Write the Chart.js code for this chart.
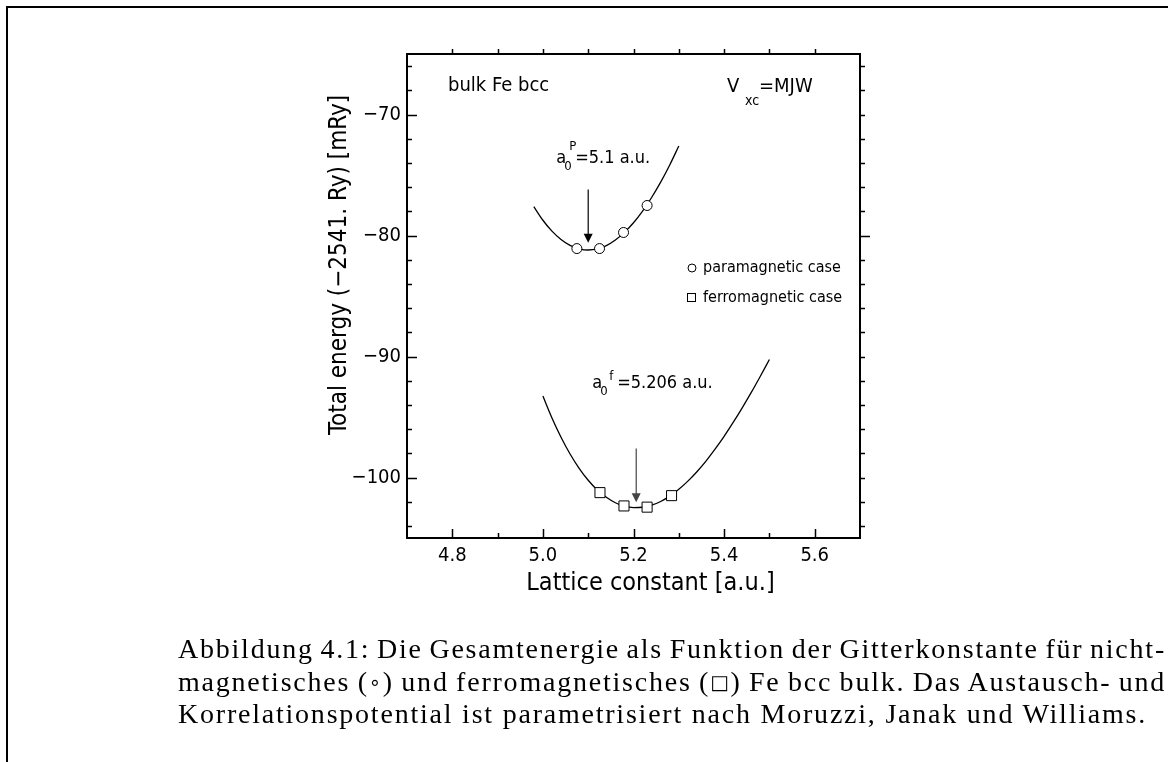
<!DOCTYPE html>
<html>
<head>
<meta charset="utf-8">
<title>Fe bcc bulk – Gesamtenergie</title>
<script src="https://cdn.jsdelivr.net/npm/chart.js@4.4.1/dist/chart.umd.min.js"></script>
<style>
  html, body { margin: 0; padding: 0; background: #fff; }
  #page { position: relative; width: 1168px; height: 762px; overflow: hidden; }
  #rule-top { position: absolute; left: 6px; top: 6px; width: 1162px; height: 2px; background: #000; }
  #rule-left { position: absolute; left: 6px; top: 6px; width: 2px; height: 756px; background: #000; }
  #plot { position: absolute; left: 0; top: 0; }
  #caption { position: absolute; left: 178px; top: 633px; font-family: 'Liberation Serif', 'DejaVu Serif', serif;
             font-size: 28px; line-height: 32.5px; color: #000; }
  #caption div { height: 32.5px; }
  #caption span.line { display: inline-block; white-space: nowrap; }
  #caption .sym { font-family: 'DejaVu Sans', sans-serif; font-size: 0.7em; vertical-align: 0.1em; }
</style>
</head>
<body>
<div id="page">
  <canvas id="plot" width="1168" height="762"></canvas>
  <div id="rule-top"></div>
  <div id="rule-left"></div>
  <div id="caption">
    <div><span class="line" data-width="988">Abbildung 4.1: Die Gesamtenergie als Funktion der Gitterkonstante für nicht-</span></div>
    <div><span class="line" data-width="988">magnetisches (<span class="sym">∘</span>) und ferromagnetisches (<span class="sym">□</span>) Fe bcc bulk. Das Austausch- und</span></div>
    <div><span class="line" data-width="969" data-ref="1">Korrelationspotential ist parametrisiert nach Moruzzi, Janak und Williams.</span></div>
  </div>
</div>
<script>
// Axis tick labels
const latticeTicks = [4.8, 5.0, 5.2, 5.4, 5.6];
const energyTicks = [-100, -90, -80, -70];

// Computed total energies (mRy, relative to -2541 Ry)
const paraLattice = [5.075, 5.125, 5.178, 5.230];
const paraEnergy  = [-81.08, -81.08, -79.75, -77.52];
const ferroLattice = [5.126, 5.179, 5.230, 5.284];
const ferroEnergy  = [-101.25, -102.35, -102.45, -101.50];

// Fitted E(a) curves
const paraFitLattice = [4.98, 5.00, 5.02, 5.04, 5.06, 5.08, 5.10, 5.12, 5.14, 5.16, 5.18, 5.20, 5.22, 5.24, 5.26, 5.28, 5.30];
const paraFitEnergy  = [-77.62, -78.74, -79.64, -80.33, -80.82, -81.10, -81.20, -81.11, -80.83, -80.37, -79.74, -78.95, -77.98, -76.86, -75.59, -74.17, -72.60];
const ferroFitLattice = [5.00, 5.02, 5.04, 5.06, 5.08, 5.10, 5.12, 5.14, 5.16, 5.18, 5.20, 5.22, 5.24, 5.26, 5.28, 5.30,
                         5.32, 5.34, 5.36, 5.38, 5.40, 5.42, 5.44, 5.46, 5.48, 5.50];
const ferroFitEnergy  = [-93.27, -95.08, -96.67, -98.06, -99.24, -100.23, -101.03, -101.64, -102.09, -102.37, -102.49, -102.46, -102.29, -101.98, -101.54, -100.98,
                         -100.30, -99.52, -98.64, -97.66, -96.60, -95.45, -94.24, -92.97, -91.63, -90.25];

// Equilibrium lattice constants (arrows): position, arrow start, arrow tip
const minLattice   = [5.1, 5.206];
const arrowFrom    = [-76.2, -97.6];
const arrowTo      = [-80.6, -102.05];
const arrowColours = ['#000', '#444'];

const SANS = "'Liberation Sans Narrow', 'DejaVu Sans Condensed', 'Liberation Sans', sans-serif";

const pts = (xs, ys) => xs.map((x, i) => ({ x: x, y: ys[i] }));

function text(ctx, s, x, y, size, align) {
  ctx.font = size + 'px ' + SANS;
  ctx.textAlign = align || 'left';
  ctx.textBaseline = 'middle';
  ctx.fillText(s, x, y);
}

const decorations = {
  id: 'decorations',
  afterDraw(chart) {
    const ctx = chart.ctx, a = chart.chartArea;
    const X = chart.scales.x, Y = chart.scales.y;
    ctx.save();
    ctx.strokeStyle = '#000';
    ctx.fillStyle = '#000';

    // frame
    ctx.lineWidth = 2;
    ctx.strokeRect(a.left, a.top, a.right - a.left, a.bottom - a.top);

    // lattice ticks: inward on bottom, outward on top
    ctx.lineWidth = 1.5;
    ctx.beginPath();
    for (let i = 0; i <= 8; i++) {
      const v = 4.8 + i * 0.1;
      const px = Math.round(X.getPixelForValue(v)) + 0.5;
      const len = (i % 2 === 0) ? 9 : 5;
      ctx.moveTo(px, a.bottom); ctx.lineTo(px, a.bottom - len);
      ctx.moveTo(px, a.top);    ctx.lineTo(px, a.top - 5);
    }
    // energy ticks: inward on left, outward on right
    for (let v = -104; v <= -66; v += 2) {
      const py = Math.round(Y.getPixelForValue(v)) + 0.5;
      const major = (v % 10 === 0);
      ctx.moveTo(a.left, py);  ctx.lineTo(a.left + (major ? 10 : 5), py);
      ctx.moveTo(a.right, py); ctx.lineTo(a.right + (v === -80 ? 10 : 5), py);
    }
    ctx.stroke();

    // arrows marking the minima
    minLattice.forEach((v, i) => {
      const px = X.getPixelForValue(v);
      const y0 = Y.getPixelForValue(arrowFrom[i]);
      const y1 = Y.getPixelForValue(arrowTo[i]);
      ctx.strokeStyle = arrowColours[i];
      ctx.fillStyle = arrowColours[i];
      ctx.lineWidth = 1.2;
      ctx.beginPath(); ctx.moveTo(px, y0); ctx.lineTo(px, y1 - 8); ctx.stroke();
      ctx.beginPath();
      ctx.moveTo(px - 4.5, y1 - 9); ctx.lineTo(px + 4.5, y1 - 9); ctx.lineTo(px, y1);
      ctx.closePath(); ctx.fill();
    });
    ctx.fillStyle = '#000';
    ctx.strokeStyle = '#000';

    // annotations
    text(ctx, 'bulk Fe bcc', a.left + 41, a.top + 32, 20);
    text(ctx, 'V', a.left + 320, a.top + 33, 20);
    text(ctx, 'xc', a.left + 338, a.top + 47, 14);
    text(ctx, '=MJW', a.left + 352, a.top + 33, 20);

    const pX = X.getPixelForValue(minLattice[0]);
    text(ctx, 'a', pX - 32, a.top + 104, 18);
    text(ctx, '0', pX - 24, a.top + 113, 13);
    text(ctx, 'P', pX - 19, a.top + 93, 13);
    text(ctx, '=5.1 a.u.', pX - 13, a.top + 104, 18);

    const fX = X.getPixelForValue(minLattice[1]);
    text(ctx, 'a', fX - 44, a.top + 329, 18);
    text(ctx, '0', fX - 36, a.top + 338, 13);
    text(ctx, 'f', fX - 27, a.top + 323, 13);
    text(ctx, '=5.206 a.u.', fX - 19, a.top + 329, 18);

    // legend
    const ds = chart.data.datasets;
    ctx.lineWidth = 1;
    ctx.beginPath(); ctx.arc(a.left + 285, a.top + 214, 4, 0, Math.PI * 2); ctx.stroke();
    text(ctx, ds[0].label, a.left + 296, a.top + 214, 16);
    ctx.strokeRect(a.left + 280.5, a.top + 239.5, 8, 8);
    text(ctx, ds[1].label, a.left + 296, a.top + 244, 16);

    // axis titles
    ctx.save();
    ctx.translate(a.left - 67, a.top + 211);
    ctx.rotate(-Math.PI / 2);
    text(ctx, 'Total energy (\u22122541. Ry) [mRy]', 0, 0, 24, 'center');
    ctx.restore();
    text(ctx, 'Lattice constant [a.u.]', (a.left + a.right) / 2 + 17, a.bottom + 45, 25, 'center');

    ctx.restore();
  }
};

new Chart(document.getElementById('plot'), {
  type: 'scatter',
  data: {
    datasets: [
      { label: 'paramagnetic case', data: pts(paraLattice, paraEnergy), showLine: false,
        pointStyle: 'circle', pointRadius: 5, pointBackgroundColor: '#fff', pointBorderColor: '#000', pointBorderWidth: 1, order: 0 },
      { label: 'ferromagnetic case', data: pts(ferroLattice, ferroEnergy), showLine: false,
        pointStyle: 'rect', pointRadius: 7.1, pointBackgroundColor: '#fff', pointBorderColor: '#000', pointBorderWidth: 1, order: 0 },
      { label: 'paramagnetic fit', data: pts(paraFitLattice, paraFitEnergy), showLine: true, pointRadius: 0,
        borderColor: '#000', borderWidth: 1.3, cubicInterpolationMode: 'monotone', order: 1 },
      { label: 'ferromagnetic fit', data: pts(ferroFitLattice, ferroFitEnergy), showLine: true, pointRadius: 0,
        borderColor: '#000', borderWidth: 1.3, cubicInterpolationMode: 'monotone', order: 1 }
    ]
  },
  options: {
    responsive: false,
    animation: false,
    events: [],
    layout: { padding: { left: 347, right: 308, top: 54, bottom: 184 } },
    plugins: { legend: { display: false }, tooltip: { enabled: false } },
    scales: {
      x: {
        type: 'linear', min: 4.7, max: 5.7,
        grid: { display: false, drawTicks: false }, border: { display: false },
        afterBuildTicks: s => { s.ticks = latticeTicks.map(v => ({ value: v })); },
        afterFit: s => { s.height = 40; },
        ticks: { padding: 6, color: '#000', maxRotation: 0, autoSkip: false,
                 font: { family: SANS, size: 20 }, callback: v => Number(v).toFixed(1) }
      },
      y: {
        type: 'linear', min: -105, max: -65,
        grid: { display: false, drawTicks: false }, border: { display: false },
        afterBuildTicks: s => { s.ticks = energyTicks.map(v => ({ value: v })); },
        afterFit: s => { s.width = 60; },
        ticks: { padding: 6, color: '#000', autoSkip: false,
                 font: { family: SANS, size: 20 }, callback: v => (v < 0 ? '\u2212' : '') + Math.abs(v) }
      }
    }
  },
  plugins: [decorations]
});

// Caption typesetting: the last line sets the letter spacing, the others are justified by word spacing
(function setCaption() {
  const cap = document.getElementById('caption');
  const lines = Array.from(cap.querySelectorAll('span.line'));
  const ref = lines.find(l => l.dataset.ref);
  const refChars = ref.textContent.length;
  const ls = (+ref.dataset.width - ref.getBoundingClientRect().width) / refChars;
  lines.forEach(l => { l.style.letterSpacing = ls.toFixed(3) + 'px'; });
  lines.forEach(l => {
    if (l === ref) return;
    const natural = l.getBoundingClientRect().width;
    const gaps = (l.textContent.match(/ /g) || []).length;
    l.style.wordSpacing = ((+l.dataset.width - natural) / gaps).toFixed(2) + 'px';
  });
})();
</script>
</body>
</html>
